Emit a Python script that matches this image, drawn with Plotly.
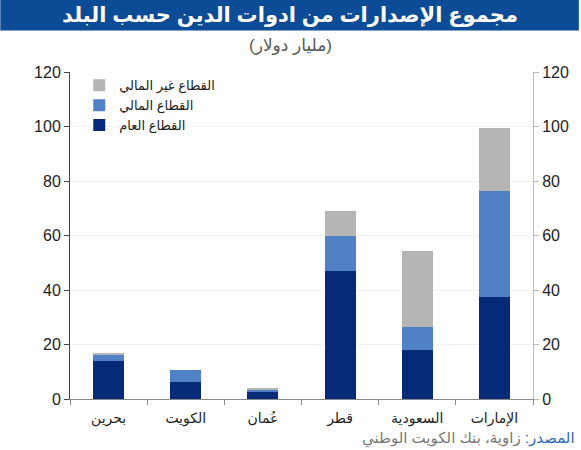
import plotly.graph_objects as go

countries = ["بحرين", "الكويت", "عُمان", "قطر", "السعودية", "الإمارات"]
public = [14.0, 6.2, 2.5, 47.1, 18.0, 37.3]
financial = [2.2, 4.3, 1.0, 12.7, 8.5, 38.9]
nonfinancial = [0.4, 0.0, 0.3, 9.3, 27.8, 23.2]

names = ["القطاع العام", "القطاع المالي", "القطاع غير المالي"]
colors = ["#062a78", "#4f81c4", "#b5b5b5"]
y_ticks = [0, 20, 40, 60, 80, 100, 120]

FONT = "Liberation Sans, Arial, DejaVu Sans, sans-serif"

fig = go.Figure()
for vals, name, col in zip([public, financial, nonfinancial], names, colors):
    fig.add_trace(go.Bar(x=countries, y=vals, name=name, marker=dict(color=col, line=dict(width=0)),
                         width=0.4))
# invisible trace for right axis
fig.add_trace(go.Scatter(x=countries, y=[0]*len(countries), yaxis="y2", mode="markers",
                         marker=dict(opacity=0), showlegend=False, hoverinfo="skip"))

fig.update_layout(
    width=581, height=450,
    margin=dict(l=70, r=46, t=72, b=51),
    barmode="stack",
    plot_bgcolor="white", paper_bgcolor="white",
    font=dict(family=FONT, color="#222"),
    showlegend=True,
    legend=dict(x=0.02, y=1.005, xanchor="left", yanchor="top", traceorder="reversed",
                font=dict(size=13, color="#222"), bgcolor="rgba(0,0,0,0)",
                itemwidth=30, tracegroupgap=0),
    xaxis=dict(type="category", showline=True, linecolor="#888", linewidth=1,
               ticks="outside", tickson="boundaries", ticklen=5, tickcolor="#888",
               tickfont=dict(size=14, color="#222"), showgrid=False, ticklabelstandoff=6),
    yaxis=dict(range=[0, 120], tickvals=y_ticks, showline=True, linecolor="#444", linewidth=1,
               ticks="outside", ticklen=5, tickcolor="#444", tickfont=dict(size=16, color="#222"),
               showgrid=True, gridcolor="#f2f2f2", zeroline=False),
    yaxis2=dict(range=[0, 120], tickvals=y_ticks, overlaying="y", side="right", showline=True,
                linecolor="#bbb", linewidth=1, ticks="outside", ticklen=5, tickcolor="#bbb",
                tickfont=dict(size=16, color="#222"), showgrid=False, zeroline=False),
    bargap=0.6,
)

fig.add_shape(type="rect", xref="paper", yref="paper", x0=-0.1505, x1=1.099, y0=1.127, y1=1.222,
              fillcolor="#0c4b95", line=dict(width=0), layer="below")
fig.add_annotation(text="<b>مجموع الإصدارات من ادوات الدين حسب البلد</b>", xref="paper", yref="paper",
                   x=0.476, y=1.174, showarrow=False, font=dict(size=21, color="white", family=FONT),
                   xanchor="center", yanchor="middle")
fig.add_annotation(text="(مليار دولار)", xref="paper", yref="paper", x=0.476, y=1.082,
                   showarrow=False, font=dict(size=17, color="#555", family=FONT),
                   xanchor="center", yanchor="middle")
fig.add_annotation(text="<span style='color:#2a6ab8'>المصدر:</span> زاوية، بنك الكويت الوطني",
                   xref="paper", yref="paper", x=1.095, y=-0.12, showarrow=False,
                   font=dict(size=15, color="#777", family=FONT), xanchor="right", yanchor="middle")

fig.write_html("out.html")
